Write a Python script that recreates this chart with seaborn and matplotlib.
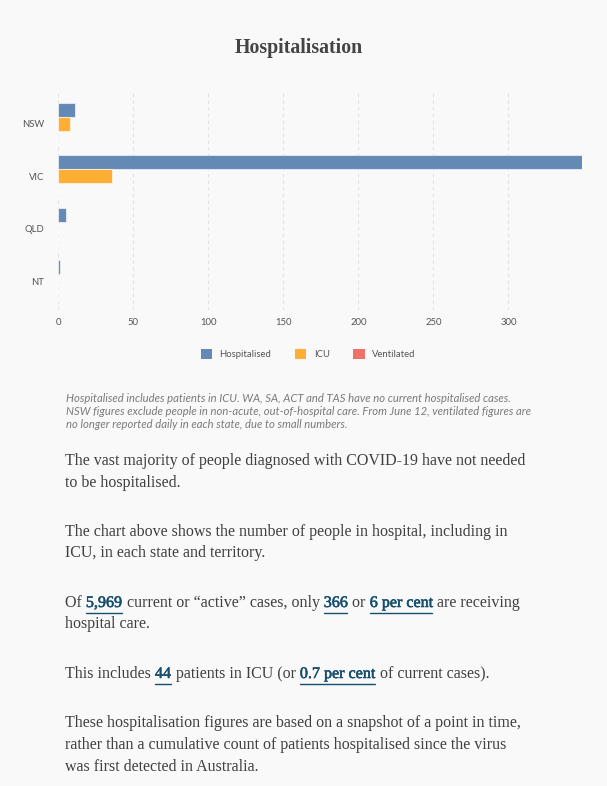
import pandas as pd
import matplotlib.pyplot as plt
import matplotlib.patheffects as pe
import seaborn as sns
from matplotlib.patches import Patch
from matplotlib.lines import Line2D

# data
states = ["NSW", "VIC", "QLD", "NT"]
hospitalised = [11, 349, 5, 1]
icu = [8, 36, 0, 0]
ventilated = [0, 0, 0, 0]
measures = ["Hospitalised", "ICU", "Ventilated"]
colors = ["#6389b5", "#ffae34", "#f0706a"]
x_ticks = [0, 50, 100, 150, 200, 250, 300]

note_lines = [
    "Hospitalised includes patients in ICU. WA, SA, ACT and TAS have no current hospitalised cases.",
    "NSW figures exclude people in non-acute, out-of-hospital care. From June 12, ventilated figures are",
    "no longer reported daily in each state, due to small numbers.",
]

# (text, is_link) runs for each body line
body_lines = [
    [("The vast majority of people diagnosed with COVID-19 have not needed", False)],
    [("to be hospitalised.", False)],
    [("The chart above shows the number of people in hospital, including in", False)],
    [("ICU, in each state and territory.", False)],
    [("Of ", False), ("5,969", True), (" current or \u201cactive\u201d cases, only ", False),
     ("366", True), (" or ", False), ("6 per cent", True), (" are receiving", False)],
    [("hospital care.", False)],
    [("This includes ", False), ("44", True), (" patients in ICU (or ", False),
     ("0.7 per cent", True), (" of current cases).", False)],
    [("These hospitalisation figures are based on a snapshot of a point in time,", False)],
    [("rather than a cumulative count of patients hospitalised since the virus", False)],
    [("was first detected in Australia.", False)],
]
body_y = [461, 483, 532, 553, 603, 624, 674, 723, 745, 767]

W, H = 607, 786
BG = "#f9f9f9"
TEXT = "#404040"
LINK = "#164e6e"
SERIF = "Liberation Serif"

df = pd.DataFrame({
    "state": states * 3,
    "measure": [m for m in measures for _ in states],
    "count": hospitalised + icu + ventilated,
})

sns.set_style("white")
plt.rcParams["font.family"] = ["Lato", "DejaVu Sans"]

fig = plt.figure(figsize=(W / 100, H / 100), dpi=100, facecolor=BG)
ax = fig.add_axes([58 / W, 1 - 310 / H, (582 - 58) / W, (310 - 93) / H])
ax.set_facecolor(BG)

sns.barplot(data=df, y="state", x="count", hue="measure", hue_order=measures,
            palette=colors, orient="h", width=0.8, ax=ax, legend=False,
            edgecolor=(1, 1, 1, 0.6), linewidth=0.8, saturation=1)

ax.set_xlim(0, 349)
ax.set_ylim(3.55, -0.59)
ax.set_xticks(x_ticks)
ax.set_xlabel("")
ax.set_ylabel("")
ax.tick_params(axis="both", length=0, labelsize=6.8, labelcolor="#555555")
ax.tick_params(axis="x", pad=6)
ax.tick_params(axis="y", pad=10)
for s in ax.spines.values():
    s.set_visible(False)
ax.grid(axis="x", color="#e2e2e2", linestyle=(0, (3, 3)), linewidth=0.8)
ax.set_axisbelow(True)

renderer = fig.canvas.get_renderer()


def run_width(txt, **kw):
    # advance width of txt, measured between two guard glyphs
    a = fig.text(0, 0, "x" + txt + "x", **kw)
    b = fig.text(0, 0, "xx", **kw)
    w = a.get_window_extent(renderer).width - b.get_window_extent(renderer).width
    a.remove()
    b.remove()
    return w


def fit_size(txt, target, start, **kw):
    w = run_width(txt, fontsize=start, **kw)
    return start * target / w


title_kw = dict(family=SERIF, weight="bold")
title_size = fit_size("Hospitalisation", 129, 14, **title_kw)
fig.text(298.5 / W, 1 - 48 / H, "Hospitalisation", ha="center", va="center",
         fontsize=title_size, color="#444444", **title_kw)

handles = [Patch(facecolor=c, edgecolor="none") for c in colors]
fig.legend(handles, measures, loc="center", bbox_to_anchor=(308 / W, 1 - 354 / H),
           ncol=3, frameon=False, fontsize=6.8, labelcolor="#555555",
           handlelength=1.2, handleheight=1.2, handletextpad=0.8, columnspacing=2.5)

note_size = fit_size(note_lines[0], 447, 8, style="italic")
for i, line in enumerate(note_lines):
    fig.text(66 / W, 1 - (398 + i * 13.3) / H, line, ha="left", va="center",
             style="italic", fontsize=note_size, color="#7a7a7a")

body_size = fit_size(body_lines[2][0][0], 446, 11, family=SERIF)
bold_fx = [pe.withStroke(linewidth=0.4, foreground=LINK)]

for y_px, runs in zip(body_y, body_lines):
    x_px = 65
    base = y_px + 4
    for txt, link in runs:
        kw = dict(family=SERIF, fontsize=body_size, color=LINK if link else TEXT)
        t = fig.text(x_px / W, 1 - base / H, txt, ha="left", va="baseline", **kw)
        w = run_width(txt, **kw)
        if link:
            t.set_path_effects(bold_fx)
            fig.add_artist(Line2D([x_px / W, (x_px + w) / W], [1 - (base + 5.5) / H] * 2,
                                  color=LINK, linewidth=1.0))
            x_px += 1
        x_px += w

fig.savefig("out.png", dpi=100, facecolor=BG)
